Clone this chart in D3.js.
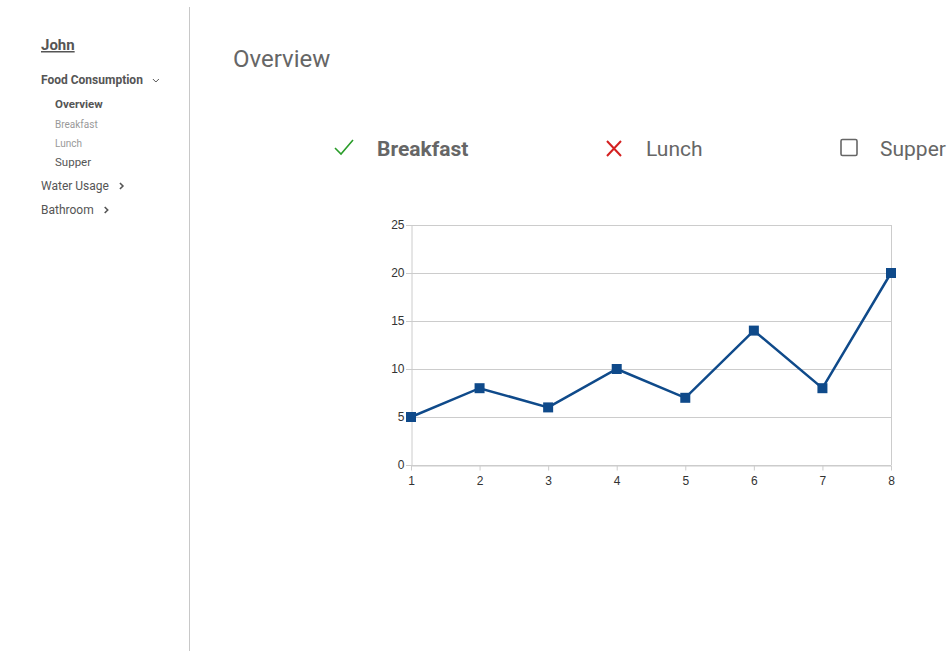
<!DOCTYPE html>
<html>
<head>
<meta charset="utf-8">
<script src="https://cdn.jsdelivr.net/npm/d3@7"></script>
<style>
  body { margin: 0; background: #fff; font-family: Roboto, "Noto Sans", sans-serif; }
</style>
</head>
<body>
<div id="page"></div>
<script>
// Chart data
const xValues = [1, 2, 3, 4, 5, 6, 7, 8];
const breakfastValues = [5, 8, 6, 10, 7, 14, 8, 20];
const yTicks = [0, 5, 10, 15, 20, 25];

// Sidebar / legend texts
const navItems = [
  { label: 'Food Consumption', level: 0, arrow: 'down', bold: true },
  { label: 'Overview', level: 1, bold: true },
  { label: 'Breakfast', level: 1, light: true },
  { label: 'Lunch', level: 1, light: true },
  { label: 'Supper', level: 1 },
  { label: 'Water Usage', level: 0, arrow: 'right' },
  { label: 'Bathroom', level: 0, arrow: 'right' }
];
const legendItems = [
  { label: 'Breakfast', state: 'check' },
  { label: 'Lunch', state: 'cross' },
  { label: 'Supper', state: 'box' }
];

let svg = d3.select('#page').append('svg')
    .attr('width', 951)
    .attr('height', 651)
    .style('display', 'block');

// ****************** Sidebar ***************************
svg.append('line')
    .attr('x1', 189.5).attr('x2', 189.5)
    .attr('y1', 7).attr('y2', 651)
    .attr('stroke', '#c8c8c8');

svg.append('text')
    .attr('x', 41).attr('y', 50)
    .attr('font-size', 15).attr('font-weight', 'bold')
    .attr('fill', '#555')
    .attr('text-decoration', 'underline')
    .text('John');

let navY = [80, 104, 124, 143, 162, 186, 210];
navItems.forEach((d, i) => {
  let size = d.level === 0 ? 12 : (d.light ? 10 : 11.5);
  let t = svg.append('text')
      .attr('x', d.level === 0 ? 41 : 55)
      .attr('y', navY[i] + 4)
      .attr('font-size', size)
      .attr('font-weight', d.bold ? 'bold' : 'normal')
      .attr('fill', d.light ? '#999' : '#555')
      .text(d.label);
  if (d.arrow) {
    let w = t.node().getComputedTextLength();
    let ax = 41 + w + 10;
    let ay = navY[i];
    let path = d.arrow === 'down'
      ? `M ${ax} ${ay - 1} L ${ax + 3} ${ay + 2} L ${ax + 6} ${ay - 1}`
      : `M ${ax + 1} ${ay - 3} L ${ax + 4} ${ay} L ${ax + 1} ${ay + 3}`;
    svg.append('path')
        .attr('d', path)
        .attr('fill', 'none')
        .attr('stroke', '#555')
        .attr('stroke-width', d.arrow === 'down' ? 1 : 1.6);
  }
});

// ****************** Title + legend ***************************
svg.append('text')
    .attr('x', 233).attr('y', 67)
    .attr('font-size', 24)
    .attr('fill', '#666')
    .text('Overview');

let legendX = [335, 606, 840];
legendItems.forEach((d, i) => {
  let x = legendX[i];
  let g = svg.append('g');
  if (d.state === 'check') {
    g.append('path')
        .attr('d', `M ${x} ${148} L ${x + 6} ${154} L ${x + 18} ${140}`)
        .attr('fill', 'none').attr('stroke', '#2a9d2a').attr('stroke-width', 1.6);
  } else if (d.state === 'cross') {
    g.append('path')
        .attr('d', `M ${x + 1} ${141} L ${x + 15} ${156} M ${x + 15} ${141} L ${x + 1} ${156}`)
        .attr('fill', 'none').attr('stroke', '#d42020').attr('stroke-width', 2);
  } else {
    g.append('rect')
        .attr('x', x + 1).attr('y', 139.5)
        .attr('width', 16).attr('height', 16).attr('rx', 1.5)
        .attr('fill', 'none').attr('stroke', '#666').attr('stroke-width', 1.6);
  }
  g.append('text')
      .attr('x', legendX[i] + (i === 0 ? 42 : 40))
      .attr('y', 156)
      .attr('font-size', 21)
      .attr('font-weight', d.state === 'check' ? 'bold' : 'normal')
      .attr('fill', '#666')
      .text(d.label);
});

// ****************** Line chart ***************************
let plot = { left: 411, right: 891, top: 225, bottom: 465 };

let x = d3.scaleLinear()
    .domain(d3.extent(xValues))
    .range([plot.left, plot.right]);
let y = d3.scaleLinear()
    .domain([0, 25])
    .range([plot.bottom, plot.top]);

// grid lines
svg.append('g')
    .selectAll('line')
    .data(yTicks)
    .join('line')
    .attr('x1', plot.left - 5).attr('x2', plot.right)
    .attr('y1', d => Math.round(y(d)) + 0.5)
    .attr('y2', d => Math.round(y(d)) + 0.5)
    .attr('stroke', '#ccc');

// right border
svg.append('line')
    .attr('x1', plot.right + 0.5).attr('x2', plot.right + 0.5)
    .attr('y1', plot.top).attr('y2', plot.bottom)
    .attr('stroke', '#ccc');

// y axis
let yAxis = svg.append('g')
    .attr('transform', `translate(${plot.left + 0.5},0)`)
    .call(d3.axisLeft(y).tickValues(yTicks).tickSize(5).tickSizeOuter(0));

// x axis
let xAxis = svg.append('g')
    .attr('transform', `translate(0,${plot.bottom + 0.5})`)
    .call(d3.axisBottom(x).tickValues(xValues).tickFormat(d3.format('d')).tickSize(5).tickSizeOuter(0));

[yAxis, xAxis].forEach(a => {
  a.select('.domain').attr('stroke', '#ccc');
  a.selectAll('.tick line').attr('stroke', '#ccc');
  a.selectAll('.tick text')
      .attr('fill', '#333')
      .attr('font-size', 12)
      .attr('font-family', '"Liberation Sans", Arial, sans-serif');
});
yAxis.selectAll('.tick text').attr('x', -7);
xAxis.selectAll('.tick text').attr('y', 11);

let line = d3.line()
    .x((d, i) => x(xValues[i]))
    .y(d => y(d));

svg.append('path')
    .datum(breakfastValues)
    .attr('d', line)
    .attr('fill', 'none')
    .attr('stroke', '#0f4a8a')
    .attr('stroke-width', 2.5);

svg.append('g')
    .selectAll('rect')
    .data(breakfastValues)
    .join('rect')
    .attr('x', (d, i) => x(xValues[i]) - 5)
    .attr('y', d => y(d) - 5)
    .attr('width', 10).attr('height', 10)
    .attr('fill', '#0f4a8a');
</script>
</body>
</html>
